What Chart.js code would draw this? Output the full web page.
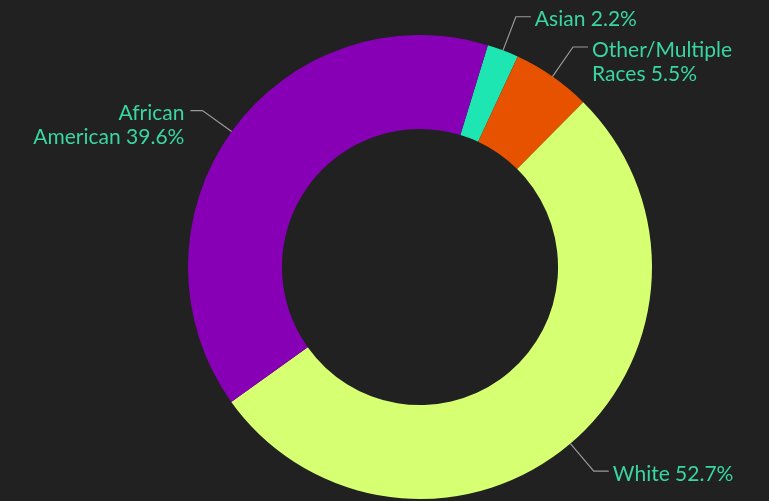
<!DOCTYPE html>
<html>
<head>
<meta charset="utf-8">
<script src="https://cdn.jsdelivr.net/npm/chart.js@4"></script>
<style>
  html, body { margin: 0; padding: 0; background: #212121; }
  #wrap { width: 769px; height: 501px; position: relative; }
</style>
</head>
<body>
<div id="wrap"><canvas id="raceChart"></canvas></div>
<script>
// Population by race, percent
const categorias = ["Asian", "Other/Multiple Races", "White", "African American"];
const porcentajes = [2.2, 5.5, 52.7, 39.6];
// label lines as drawn next to each slice
const etiquetas = [
    ["Asian 2.2%"],
    ["Other/Multiple", "Races 5.5%"],
    ["White 52.7%"],
    ["African", "American 39.6%"]
];
const colores = ["#1de6b2", "#e65200", "#d6ff72", "#8700b5"];

// leader lines + text outside the ring
const etiquetasExternas = {
    id: "etiquetasExternas",
    afterDatasetsDraw(chart) {
        const ctx = chart.ctx;
        const arcs = chart.getDatasetMeta(0).data;
        ctx.save();
        ctx.font = "21px Lato, 'Open Sans', sans-serif";
        ctx.textBaseline = "middle";
        arcs.forEach((arc, i) => {
            const { x, y, startAngle, endAngle, outerRadius } = arc.getProps(["x", "y", "startAngle", "endAngle", "outerRadius"]);
            const medio = (startAngle + endAngle) / 2;
            const cos = Math.cos(medio), sin = Math.sin(medio);
            const x0 = x + cos * outerRadius, y0 = y + sin * outerRadius;
            const x1 = x + cos * (outerRadius + 36), y1 = y + sin * (outerRadius + 36);
            const derecha = cos >= 0;
            const x2 = x1 + (derecha ? 15 : -12);

            ctx.strokeStyle = "#9a9a9a";
            ctx.lineWidth = 1.2;
            ctx.beginPath();
            ctx.moveTo(x0, y0);
            ctx.lineTo(x1, y1);
            ctx.lineTo(x2, y1);
            ctx.stroke();

            ctx.fillStyle = "#38d6a2";
            ctx.textAlign = derecha ? "left" : "right";
            const tx = x2 + (derecha ? 4 : -6);
            etiquetas[i].forEach((linea, j) => {
                ctx.fillText(linea, tx, y1 + 3 + j * 24);
            });
        });
        ctx.restore();
    }
};

new Chart(document.getElementById("raceChart"), {
    type: "doughnut",
    data: {
        labels: categorias,
        datasets: [{
            data: porcentajes,
            backgroundColor: colores,
            borderWidth: 0,
            hoverOffset: 0
        }]
    },
    options: {
        responsive: true,
        maintainAspectRatio: false,
        animation: false,
        rotation: 17,
        cutout: "59.5%",
        layout: { padding: { top: 35, bottom: 2, left: 71, right: 0 } },
        plugins: {
            legend: { display: false },
            tooltip: { enabled: false }
        }
    },
    plugins: [etiquetasExternas]
});
</script>
</body>
</html>
